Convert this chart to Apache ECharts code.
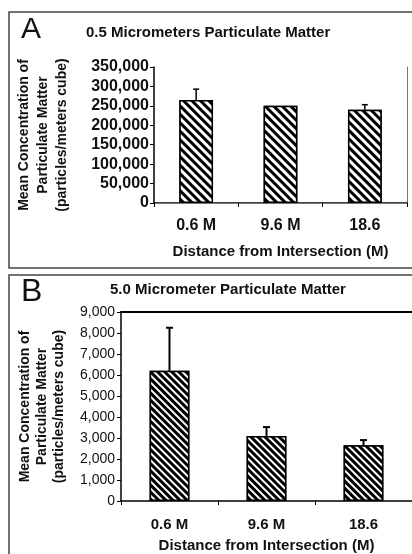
<!DOCTYPE html>
<html>
<head>
<meta charset="utf-8">
<script src="https://cdn.jsdelivr.net/npm/echarts@6/dist/echarts.min.js"></script>
<style>
html,body{margin:0;padding:0;background:#fff;}
#c{width:412px;height:554px;}
</style>
</head>
<body>
<div id="c"></div>
<script>
// ---- data ----
var categories = ['0.6 M', '9.6 M', '18.6'];
var valuesA = [265000, 250000, 240000];
var errorsA = [28000, 0, 13000];
var valuesB = [6200, 3100, 2650];
var errorsB = [2050, 420, 250];
var titleA = '0.5 Micrometers Particulate Matter';
var titleB = '5.0 Micrometer Particulate Matter';
var yNameLines = ['Mean Concentration of', 'Particulate Matter', '(particles/meters cube)'];
var xName = 'Distance from Intersection (M)';

var FONT = 'Liberation Sans, Arial, sans-serif';

function fmt(v) { return String(v).replace(/\B(?=(\d{3})+(?!\d))/g, ','); }

function errData(vals, errs) {
  return vals.map(function (v, i) { return [i, v, v + errs[i]]; });
}

function errRender(capW, lw) {
  return function (params, api) {
    var lo = api.value(1), hi = api.value(2);
    if (hi <= lo) return null;
    var p0 = api.coord([api.value(0), lo]);
    var p1 = api.coord([api.value(0), hi]);
    var st = { stroke: '#000', lineWidth: lw };
    return {
      type: 'group',
      children: [
        { type: 'line', shape: { x1: p0[0], y1: p0[1], x2: p1[0], y2: p1[1] }, style: st },
        { type: 'line', shape: { x1: p1[0] - capW / 2, y1: p1[1], x2: p1[0] + capW / 2, y2: p1[1] }, style: st }
      ]
    };
  };
}

function decal(h, g) {
  return {
    symbol: 'rect', symbolSize: 1, dashArrayX: [1, 0], dashArrayY: [h, g],
    rotation: Math.PI / 4, color: '#000', backgroundColor: '#fff'
  };
}

var chart = echarts.init(document.getElementById('c'), null, { renderer: 'canvas' });

var option = {
  backgroundColor: '#fff',
  animation: false,
  aria: { enabled: true, decal: { show: true } },
  title: [
    { text: titleA, left: 86, top: 24, padding: 0, textStyle: { fontFamily: FONT, fontSize: 15, fontWeight: 'bold', color: '#111', lineHeight: 18 } },
    { text: titleB, left: 110, top: 281, padding: 0, textStyle: { fontFamily: FONT, fontSize: 15, fontWeight: 'bold', color: '#111', lineHeight: 18 } }
  ],
  grid: [
    { left: 154, top: 67, right: 5, height: 136, outerBoundsMode: 'none', containLabel: false },
    { left: 121, top: 312, right: 0, height: 189, outerBoundsMode: 'none', containLabel: false }
  ],
  xAxis: [
    {
      gridIndex: 0, type: 'category', data: categories,
      axisLine: { lineStyle: { color: '#000', width: 1.5 } },
      axisTick: { show: true, length: 4, lineStyle: { color: '#000' } },
      axisLabel: { margin: 15, fontFamily: FONT, fontSize: 16, fontWeight: 'bold', color: '#111' },
      name: xName, nameLocation: 'middle', nameGap: 41, nameMoveOverlap: false,
      nameTextStyle: { fontFamily: FONT, fontSize: 15, fontWeight: 'bold', color: '#111' }
    },
    {
      gridIndex: 0, type: 'category', data: categories, position: 'top',
      axisLine: { lineStyle: { color: '#777', width: 1 } },
      axisTick: { show: false }, axisLabel: { show: false }
    },
    {
      gridIndex: 1, type: 'category', data: categories,
      axisLine: { lineStyle: { color: '#000', width: 1.5 } },
      axisTick: { show: true, length: 4, lineStyle: { color: '#000' } },
      axisLabel: { margin: 16, fontFamily: FONT, fontSize: 15, fontWeight: 'bold', color: '#111' },
      name: xName, nameLocation: 'middle', nameGap: 37, nameMoveOverlap: false,
      nameTextStyle: { fontFamily: FONT, fontSize: 15, fontWeight: 'bold', color: '#111' }
    },
    {
      gridIndex: 1, type: 'category', data: categories, position: 'top',
      axisLine: { lineStyle: { color: '#000', width: 2 } },
      axisTick: { show: false }, axisLabel: { show: false }
    }
  ],
  yAxis: [
    {
      gridIndex: 0, type: 'value', min: 0, max: 350000, interval: 50000,
      axisLine: { show: true, lineStyle: { color: '#000', width: 1.5 } },
      axisTick: { show: true, length: 4, lineStyle: { color: '#000' } },
      splitLine: { show: false },
      axisLabel: { margin: 5, fontFamily: FONT, fontSize: 16, fontWeight: 'bold', color: '#111', formatter: fmt },
      name: yNameLines.join('\n'), nameLocation: 'middle', nameRotate: 90, nameGap: 82, nameMoveOverlap: false,
      nameTextStyle: { fontFamily: FONT, fontSize: 14, fontWeight: 'bold', color: '#111', lineHeight: 19, align: 'center' }
    },
    {
      gridIndex: 0, type: 'value', min: 0, max: 350000, interval: 50000, position: 'right',
      axisLine: { show: true, lineStyle: { color: '#777', width: 1 } },
      axisTick: { show: false }, axisLabel: { show: false }, splitLine: { show: false }
    },
    {
      gridIndex: 1, type: 'value', min: 0, max: 9000, interval: 1000,
      axisLine: { show: true, lineStyle: { color: '#000', width: 1.5 } },
      axisTick: { show: true, length: 4, lineStyle: { color: '#000' } },
      splitLine: { show: false },
      axisLabel: { margin: 6, fontFamily: FONT, fontSize: 14, color: '#111', formatter: fmt },
      name: yNameLines.join('\n'), nameLocation: 'middle', nameRotate: 90, nameGap: 53, nameMoveOverlap: false,
      nameTextStyle: { fontFamily: FONT, fontSize: 14, fontWeight: 'bold', color: '#111', lineHeight: 17, align: 'center' }
    }
  ],
  series: [
    {
      type: 'bar', xAxisIndex: 0, yAxisIndex: 0, data: valuesA, barWidth: '40%',
      itemStyle: { color: '#fff', borderColor: '#000', borderWidth: 1.5, decal: decal(2.6, 2.4) }
    },
    {
      type: 'custom', xAxisIndex: 0, yAxisIndex: 0, data: errData(valuesA, errorsA),
      renderItem: errRender(6, 1.5), z: 3
    },
    {
      type: 'bar', xAxisIndex: 2, yAxisIndex: 2, data: valuesB, barWidth: '41%',
      itemStyle: { color: '#fff', borderColor: '#000', borderWidth: 1.5, decal: decal(2.1, 1.8) }
    },
    {
      type: 'custom', xAxisIndex: 2, yAxisIndex: 2, data: errData(valuesB, errorsB),
      renderItem: errRender(7, 2), z: 3
    }
  ],
  graphic: [
    { type: 'rect', shape: { x: 9, y: 12, width: 420, height: 256 }, style: { fill: 'none', stroke: '#444', lineWidth: 1.5 }, silent: true },
    { type: 'rect', shape: { x: 9, y: 275, width: 420, height: 300 }, style: { fill: 'none', stroke: '#444', lineWidth: 1.5 }, silent: true },
    { type: 'text', left: 21, top: 15, style: { text: 'A', fontFamily: FONT, fontSize: 30, fill: '#111' } },
    { type: 'text', left: 21, top: 276, style: { text: 'B', fontFamily: FONT, fontSize: 32, fill: '#111' } }
  ]
};

chart.setOption(option);
</script>
</body>
</html>
